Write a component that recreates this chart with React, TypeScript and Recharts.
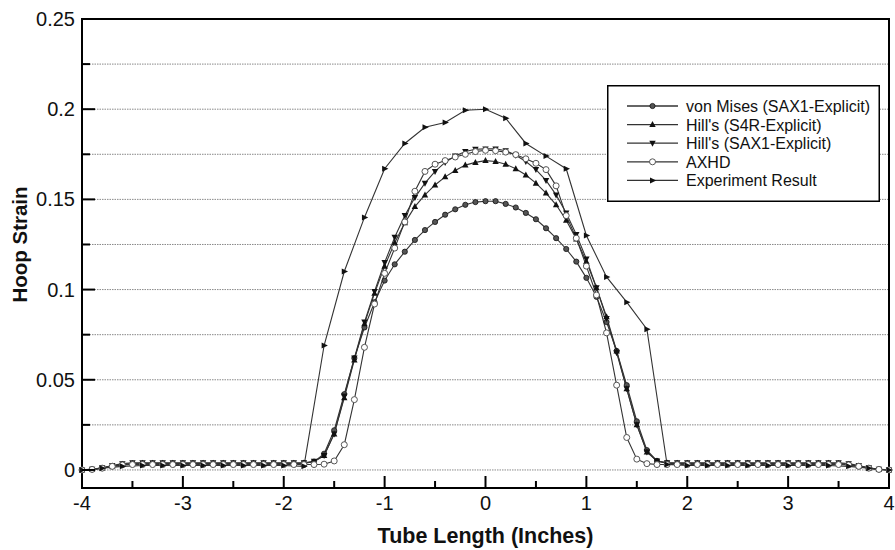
import { LineChart, Line, XAxis, YAxis, CartesianGrid, Legend, ReferenceArea, Label } from 'recharts';

// tube positions (inches) of the simulation nodes
const modelX = [
  -4, -3.9, -3.8, -3.7, -3.6, -3.5, -3.4, -3.3, -3.2, -3.1,
  -3, -2.9, -2.8, -2.7, -2.6, -2.5, -2.4, -2.3, -2.2, -2.1,
  -2, -1.9, -1.8, -1.7, -1.6, -1.5, -1.4, -1.3, -1.2, -1.1,
  -1, -0.9, -0.8, -0.7, -0.6, -0.5, -0.4, -0.3, -0.2, -0.1,
  0, 0.1, 0.2, 0.3, 0.4, 0.5, 0.6, 0.7, 0.8, 0.9,
  1, 1.1, 1.2, 1.3, 1.4, 1.5, 1.6, 1.7, 1.8, 1.9,
  2, 2.1, 2.2, 2.3, 2.4, 2.5, 2.6, 2.7, 2.8, 2.9,
  3, 3.1, 3.2, 3.3, 3.4, 3.5, 3.6, 3.7, 3.8, 3.9,
  4,
];

const vonMises = [
  0, 0.0003, 0.001, 0.002, 0.003, 0.0033, 0.0035, 0.0035, 0.0035, 0.0035,
  0.0035, 0.0035, 0.0035, 0.0035, 0.0035, 0.0035, 0.0035, 0.0035, 0.0035, 0.0035,
  0.0035, 0.0035, 0.0037, 0.0045, 0.009, 0.022, 0.042, 0.062, 0.079, 0.093,
  0.105, 0.114, 0.121, 0.1275, 0.133, 0.1375, 0.1415, 0.1445, 0.147, 0.1485,
  0.149, 0.149, 0.1475, 0.1455, 0.1425, 0.139, 0.134, 0.1285, 0.1225, 0.1155,
  0.1065, 0.096, 0.082, 0.066, 0.047, 0.027, 0.011, 0.005, 0.0038, 0.0035,
  0.0035, 0.0035, 0.0035, 0.0035, 0.0035, 0.0035, 0.0035, 0.0035, 0.0035, 0.0035,
  0.0035, 0.0035, 0.0035, 0.0035, 0.0035, 0.0033, 0.003, 0.002, 0.001, 0.0003,
  0,
];

const hillS4R = [
  0, 0.0003, 0.001, 0.0022, 0.0032, 0.0036, 0.0037, 0.0037, 0.0037, 0.0037,
  0.0037, 0.0037, 0.0037, 0.0037, 0.0037, 0.0037, 0.0037, 0.0037, 0.0037, 0.0037,
  0.0037, 0.0037, 0.0038, 0.0045, 0.008, 0.02, 0.04, 0.061, 0.081, 0.098,
  0.113, 0.126, 0.137, 0.146, 0.1525, 0.158, 0.1625, 0.166, 0.169, 0.1705,
  0.1715, 0.171, 0.1695, 0.167, 0.1635, 0.159, 0.1535, 0.147, 0.1385, 0.128,
  0.1155, 0.101, 0.085, 0.066, 0.045, 0.025, 0.01, 0.005, 0.0038, 0.0037,
  0.0037, 0.0037, 0.0037, 0.0037, 0.0037, 0.0037, 0.0037, 0.0037, 0.0037, 0.0037,
  0.0037, 0.0037, 0.0037, 0.0037, 0.0037, 0.0036, 0.0032, 0.0022, 0.001, 0.0003,
  0,
];

const hillSAX1 = [
  0, 0.0004, 0.0012, 0.0025, 0.0035, 0.004, 0.004, 0.004, 0.004, 0.004,
  0.004, 0.004, 0.004, 0.004, 0.004, 0.004, 0.004, 0.004, 0.004, 0.004,
  0.004, 0.004, 0.004, 0.0048, 0.008, 0.02, 0.041, 0.062, 0.082, 0.099,
  0.115, 0.129, 0.141, 0.151, 0.159, 0.1655, 0.1705, 0.174, 0.1765, 0.1778,
  0.178, 0.178, 0.177, 0.1745, 0.171, 0.1665, 0.1605, 0.1525, 0.1425, 0.1305,
  0.117, 0.101, 0.084, 0.065, 0.045, 0.025, 0.01, 0.005, 0.004, 0.004,
  0.004, 0.004, 0.004, 0.004, 0.004, 0.004, 0.004, 0.004, 0.004, 0.004,
  0.004, 0.004, 0.004, 0.004, 0.004, 0.004, 0.0035, 0.0025, 0.0012, 0.0004,
  0,
];

const axhd = [
  0, 0.0003, 0.001, 0.002, 0.0028, 0.003, 0.003, 0.003, 0.003, 0.003,
  0.003, 0.003, 0.003, 0.003, 0.003, 0.003, 0.003, 0.003, 0.003, 0.003,
  0.003, 0.003, 0.003, 0.003, 0.0032, 0.005, 0.014, 0.039, 0.068, 0.092,
  0.109, 0.123, 0.1375, 0.1545, 0.1655, 0.1695, 0.1715, 0.1735, 0.175, 0.1765,
  0.1772, 0.177, 0.1762, 0.1748, 0.1725, 0.17, 0.1665, 0.1575, 0.141, 0.1285,
  0.113, 0.097, 0.076, 0.047, 0.018, 0.006, 0.0035, 0.003, 0.003, 0.003,
  0.003, 0.003, 0.003, 0.003, 0.003, 0.003, 0.003, 0.003, 0.003, 0.003,
  0.003, 0.003, 0.003, 0.003, 0.003, 0.003, 0.0028, 0.002, 0.001, 0.0003,
  0,
];

// experiment gauge positions
const expX = [
  -4, -3.8, -3.6, -3.4, -3.2, -3, -2.8, -2.6, -2.4, -2.2,
  -2, -1.8, -1.6, -1.4, -1.2, -1, -0.8, -0.6, -0.4, -0.2,
  0, 0.2, 0.4, 0.6, 0.8, 1, 1.2, 1.4, 1.6, 1.8,
  2, 2.2, 2.4, 2.6, 2.8, 3, 3.2, 3.4, 3.6, 3.8,
  4,
];

const experiment = [
  0, 0.001, 0.002, 0.0025, 0.0025, 0.0025, 0.0025, 0.0025, 0.0025, 0.0025,
  0.0025, 0.002, 0.069, 0.11, 0.14, 0.167, 0.181, 0.19, 0.1926, 0.1994,
  0.2, 0.195, 0.181, 0.174, 0.167, 0.13, 0.107, 0.093, 0.078, 0.003,
  0.0025, 0.0025, 0.0025, 0.0025, 0.0025, 0.0025, 0.0025, 0.0025, 0.002, 0.001,
  0,
];

const xTicks = [-4, -3.5, -3, -2.5, -2, -1.5, -1, -0.5, 0, 0.5, 1, 1.5, 2, 2.5, 3, 3.5, 4];
const yTicks = [0, 0.025, 0.05, 0.075, 0.1, 0.125, 0.15, 0.175, 0.2, 0.225, 0.25];

const FONT = '"Liberation Sans", Arial, Helvetica, sans-serif';
const LINE = '#333';

type MarkerKind = 'dot' | 'up' | 'down' | 'circle' | 'right';

const toPoints = (xs: number[], ys: number[]) => xs.map((x, i) => ({ x, y: ys[i] }));

const series: { name: string; data: { x: number; y: number }[]; marker: MarkerKind }[] = [
  { name: 'von Mises (SAX1-Explicit)', data: toPoints(modelX, vonMises), marker: 'dot' },
  { name: "Hill's (S4R-Explicit)", data: toPoints(modelX, hillS4R), marker: 'up' },
  { name: "Hill's (SAX1-Explicit)", data: toPoints(modelX, hillSAX1), marker: 'down' },
  { name: 'AXHD', data: toPoints(modelX, axhd), marker: 'circle' },
  { name: 'Experiment Result', data: toPoints(expX, experiment), marker: 'right' },
];

function Marker({ kind, cx, cy }: { kind: MarkerKind; cx: number; cy: number }) {
  switch (kind) {
    case 'dot':
      return <circle cx={cx} cy={cy} r={2.6} fill="#555" stroke="#111" strokeWidth={0.8} />;
    case 'up':
      return <path d={`M${cx},${cy - 3.5}L${cx + 3.2},${cy + 2.5}L${cx - 3.2},${cy + 2.5}Z`} fill="#111" />;
    case 'down':
      return <path d={`M${cx},${cy + 3.5}L${cx + 3.2},${cy - 2.5}L${cx - 3.2},${cy - 2.5}Z`} fill="#111" />;
    case 'circle':
      return <circle cx={cx} cy={cy} r={3} fill="#fff" stroke="#555" strokeWidth={1} />;
    default:
      return <path d={`M${cx + 3.8},${cy}L${cx - 2.5},${cy - 3}L${cx - 2.5},${cy + 3}Z`} fill="#111" />;
  }
}

const makeDot = (kind: MarkerKind) => (props: any) => {
  const { cx, cy, index } = props;
  if (cx == null || cy == null) return <g key={index} />;
  return (
    <g key={index}>
      <Marker kind={kind} cx={cx} cy={cy} />
    </g>
  );
};

const XTick = (props: any) => {
  const { x, y, payload } = props;
  const v = payload.value as number;
  const major = Number.isInteger(v);
  return (
    <g>
      <line x1={x} x2={x} y1={y} y2={y - (major ? 12 : 7)} stroke="#000" strokeWidth={2} />
      {major && (
        <text x={x} y={y + 22} textAnchor="middle" fontSize={20} fontFamily={FONT} fill="#111">
          {v}
        </text>
      )}
    </g>
  );
};

const YTick = (props: any) => {
  const { x, y, payload } = props;
  const v = payload.value as number;
  const major = Math.round(v * 1000) % 50 === 0;
  return (
    <g>
      <line x1={x} x2={x + (major ? 13 : 8)} y1={y} y2={y} stroke="#000" strokeWidth={2} />
      {major && (
        <text x={x - 7} y={y + 7} textAnchor="end" fontSize={20} fontFamily={FONT} fill="#111">
          {v}
        </text>
      )}
    </g>
  );
};

const LegendBox = () => (
  <svg width={273} height={117} style={{ display: 'block' }}>
    <rect x={0.75} y={0.75} width={271.5} height={115.5} fill="#fff" stroke="#000" strokeWidth={1.5} />
    {series.map((s, i) => {
      const cy = 21 + i * 18.6;
      return (
        <g key={s.name}>
          <line x1={20} x2={71} y1={cy} y2={cy} stroke={LINE} strokeWidth={1.3} />
          <Marker kind={s.marker} cx={45.5} cy={cy} />
          <text x={79} y={cy + 6} fontSize={16} fontFamily={FONT} fill="#111">
            {s.name}
          </text>
        </g>
      );
    })}
  </svg>
);

export default function App() {
  return (
    <div style={{ position: 'fixed', left: 0, top: 0, width: 895, height: 550, background: '#fff' }}>
      <LineChart width={895} height={550} margin={{ top: 19, right: 6, bottom: 0, left: 0 }}>
        <CartesianGrid vertical={false} stroke="#888" strokeDasharray="1.5 1" />
        <XAxis
          type="number"
          dataKey="x"
          domain={[-4, 4]}
          ticks={xTicks}
          height={62}
          tickSize={0}
          tickMargin={0}
          tickLine={false}
          axisLine={{ stroke: '#000', strokeWidth: 2 }}
          tick={<XTick />}
          allowDuplicatedCategory={false}
        >
          <Label
            content={({ viewBox }: any) => (
              <text
                x={viewBox.x + viewBox.width / 2}
                y={viewBox.y + 55}
                textAnchor="middle"
                fontSize={21.5}
                fontWeight="bold"
                fontFamily={FONT}
                fill="#111"
              >
                Tube Length (Inches)
              </text>
            )}
          />
        </XAxis>
        <YAxis
          type="number"
          domain={[-0.01, 0.25]}
          ticks={yTicks}
          width={82}
          tickSize={0}
          tickMargin={0}
          tickLine={false}
          axisLine={{ stroke: '#000', strokeWidth: 2 }}
          tick={<YTick />}
        >
          <Label
            content={({ viewBox }: any) => {
              const cx = viewBox.x + 19;
              const cy = viewBox.y + (viewBox.height - 18) / 2;
              return (
                <text
                  x={cx}
                  y={cy}
                  transform={`rotate(-90 ${cx} ${cy})`}
                  textAnchor="middle"
                  dominantBaseline="central"
                  fontSize={20.5}
                  fontWeight="bold"
                  fontFamily={FONT}
                  fill="#111"
                >
                  Hoop Strain
                </text>
              );
            }}
          />
        </YAxis>
        <ReferenceArea x1={-4} x2={4} y1={-0.01} y2={0.25} fill="none" stroke="#000" strokeWidth={2} />
        {series.map((s) => (
          <Line
            key={s.name}
            data={s.data}
            dataKey="y"
            name={s.name}
            type="linear"
            stroke={LINE}
            strokeWidth={1.1}
            dot={makeDot(s.marker)}
            activeDot={false}
            isAnimationActive={false}
          />
        ))}
        <Legend
          layout="horizontal"
          verticalAlign="middle"
          align="center"
          width={273}
          height={117}
          wrapperStyle={{ left: 607, top: 85, width: 273, height: 117 }}
          content={() => <LegendBox />}
        />
      </LineChart>
    </div>
  );
}
